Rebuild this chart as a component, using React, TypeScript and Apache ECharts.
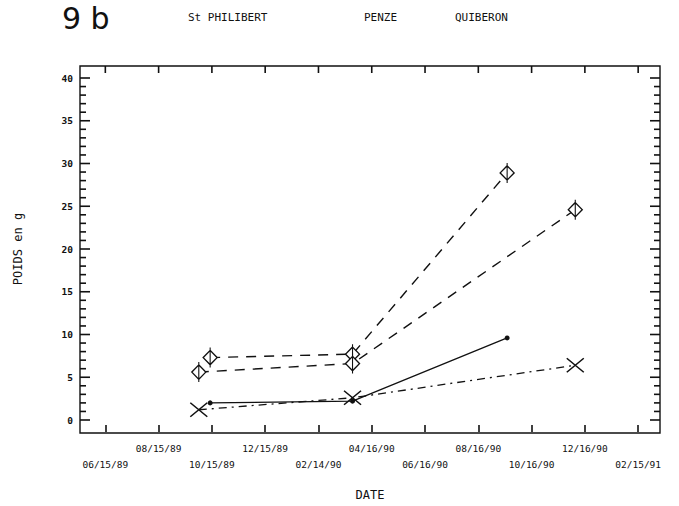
import React, { useEffect, useRef } from "react";
import * as echarts from "echarts";

// x-axis tick dates and their printed labels
const tickDates = [
  "1989-06-15", "1989-08-15", "1989-10-15", "1989-12-15", "1990-02-14", "1990-04-16",
  "1990-06-16", "1990-08-16", "1990-10-16", "1990-12-16", "1991-02-15",
];
const tickLabels = [
  "06/15/89", "08/15/89", "10/15/89", "12/15/89", "02/14/90", "04/16/90",
  "06/16/90", "08/16/90", "10/16/90", "12/16/90", "02/15/91",
];
const yMin = 0;
const yMax = 40;
const yStep = 5;
// every small y tick (g)
const yTicks = [
  0, 1, 2, 3, 4, 5, 6, 7, 8, 9, 10, 11, 12, 13, 14, 15, 16, 17, 18, 19, 20,
  21, 22, 23, 24, 25, 26, 27, 28, 29, 30, 31, 32, 33, 34, 35, 36, 37, 38, 39, 40,
];

// sampling dates
const datesA = ["1989-10-13", "1990-03-25", "1990-09-18"];
const datesB = ["1989-09-30", "1990-03-25", "1990-12-05"];

// weights (g)
const diamondA = [7.3, 7.7, 28.9];
const diamondB = [5.6, 6.6, 24.6];
const dotsA = [2.0, 2.2, 9.6];
const crossB = [1.2, 2.6, 6.4];

const headerNames = ["St PHILIBERT", "PENZE", "QUIBERON"];

const DAY = 86400000;
const origin = new Date("1989-06-15T00:00:00Z").getTime();
// day number counted from the first tick date
const toDay = (s: string) => Math.round((new Date(s + "T00:00:00Z").getTime() - origin) / DAY);
const tickDays = tickDates.map(toDay);
const xMin = tickDays[0] - 29;
const xMax = tickDays[tickDays.length - 1] + 25;

const ink = "#111111";
const mono = "DejaVu Sans Mono";

const pair = (dates: string[], vals: number[]) => dates.map((d, i) => [toDay(d), vals[i]]);

const diamondSym = "path://M0,-10 L7,0 L0,10 L-7,0 Z M0,-14 L0,14";
const crossSym = "path://M-10,-8 L10,8 M-10,8 L10,-8";

// layout (pixels)
const G = { left: 80, right: 19, top: 78, bottom: 85 };
const FRAME = { x: 80, y: 66, w: 580, h: 367 };
const X_OFF = 12;

export default function App() {
  const ref = useRef<HTMLDivElement>(null);
  useEffect(() => {
    if (!ref.current) return;
    const chart = echarts.init(ref.current, undefined, { renderer: "svg" });
    const labelFmt = (v: number) => {
      const i = tickDays.indexOf(Math.round(v));
      if (i < 0) return "";
      return i % 2 === 0 ? "\n" + tickLabels[i] : tickLabels[i] + "\n";
    };
    const yCommon = {
      type: "value", min: yMin, max: yMax, interval: yStep,
      splitLine: { show: false },
      axisLine: { show: false, onZero: false },
      axisTick: { show: false },
    };
    const tickStyle = { stroke: ink, lineWidth: 1.6 };
    chart.setOption({
      animation: false,
      backgroundColor: "#ffffff",
      grid: { ...G, show: false },
      graphic: [
        {
          type: "rect", shape: { x: FRAME.x, y: FRAME.y, width: FRAME.w, height: FRAME.h },
          style: { fill: "none", stroke: ink, lineWidth: 1.4 }, z: 10,
        },
        { type: "text", left: 62, top: 3, style: { text: "9 b", fontSize: 30, fontFamily: "DejaVu Sans", fill: ink } },
        { type: "text", left: 188, top: 12, style: { text: headerNames[0], fontSize: 11, fontFamily: mono, fill: ink } },
        { type: "text", left: 364, top: 12, style: { text: headerNames[1], fontSize: 11, fontFamily: mono, fill: ink } },
        { type: "text", left: 455, top: 12, style: { text: headerNames[2], fontSize: 11, fontFamily: mono, fill: ink } },
      ],
      xAxis: [
        {
          type: "value", min: xMin, max: xMax, position: "bottom", offset: X_OFF,
          name: "DATE", nameLocation: "middle", nameGap: 57,
          nameTextStyle: { fontFamily: mono, fontSize: 12, color: ink },
          axisLine: { show: false, onZero: false },
          axisTick: { show: true, inside: true, length: 7, customValues: tickDays, lineStyle: { color: ink, width: 1.6 } },
          axisLabel: {
            customValues: tickDays, formatter: labelFmt, fontFamily: mono, fontSize: 9.5,
            color: ink, lineHeight: 16, margin: 8, hideOverlap: false,
          },
          splitLine: { show: false },
        },
      ],
      yAxis: [
        {
          ...yCommon, position: "left",
          name: "POIDS en g", nameLocation: "middle", nameGap: 56, nameRotate: 90,
          nameTextStyle: { fontFamily: mono, fontSize: 12, color: ink },
          axisLabel: { fontFamily: mono, fontSize: 9.5, color: ink, margin: 7, fontWeight: "bold" },
        },
      ],
      series: [
        {
          name: "y ticks", type: "custom", silent: true, clip: false, z: 1,
          data: yTicks.map((v) => [xMin, v]),
          encode: { x: 0, y: 1 },
          renderItem: (params: any, api: any) => {
            const v = api.value(1);
            const p = api.coord([xMin, v]);
            const r = api.coord([xMax, v]);
            const len = v % 5 === 0 ? 10 : 6;
            return {
              type: "group",
              children: [
                { type: "line", shape: { x1: p[0], y1: p[1], x2: p[0] + len, y2: p[1] }, style: tickStyle },
                { type: "line", shape: { x1: r[0], y1: r[1], x2: r[0] - len, y2: r[1] }, style: tickStyle },
              ],
            };
          },
        },
        {
          name: "x ticks top", type: "custom", silent: true, clip: false, z: 1,
          data: tickDays.map((d) => [d, yMax]),
          encode: { x: 0, y: 1 },
          renderItem: (params: any, api: any) => {
            const p = api.coord([api.value(0), yMax]);
            const top = p[1] - X_OFF;
            return { type: "line", shape: { x1: p[0], y1: top, x2: p[0], y2: top + 7 }, style: tickStyle };
          },
        },
        {
          name: "A losange", type: "line", data: pair(datesA, diamondA),
          symbol: diamondSym, symbolSize: [14, 20],
          itemStyle: { color: "#ffffff", borderColor: ink, borderWidth: 1.3 },
          lineStyle: { color: ink, width: 1.4, type: [10, 8] },
        },
        {
          name: "B losange", type: "line", data: pair(datesB, diamondB),
          symbol: diamondSym, symbolSize: [14, 20],
          itemStyle: { color: "#ffffff", borderColor: ink, borderWidth: 1.3 },
          lineStyle: { color: ink, width: 1.4, type: [10, 8] },
        },
        {
          name: "A point", type: "line", data: pair(datesA, dotsA),
          symbol: "circle", symbolSize: 5,
          itemStyle: { color: ink },
          lineStyle: { color: ink, width: 1.3, type: "solid" },
        },
        {
          name: "B croix", type: "line", data: pair(datesB, crossB),
          symbol: crossSym, symbolSize: [17, 14],
          itemStyle: { color: "transparent", borderColor: ink, borderWidth: 1.3 },
          lineStyle: { color: ink, width: 1.3, type: [8, 5, 2, 5] },
        },
      ],
    });
    return () => chart.dispose();
  }, []);
  return <div ref={ref} style={{ width: 679, height: 506, position: "absolute", left: 0, top: 0 }} />;
}
